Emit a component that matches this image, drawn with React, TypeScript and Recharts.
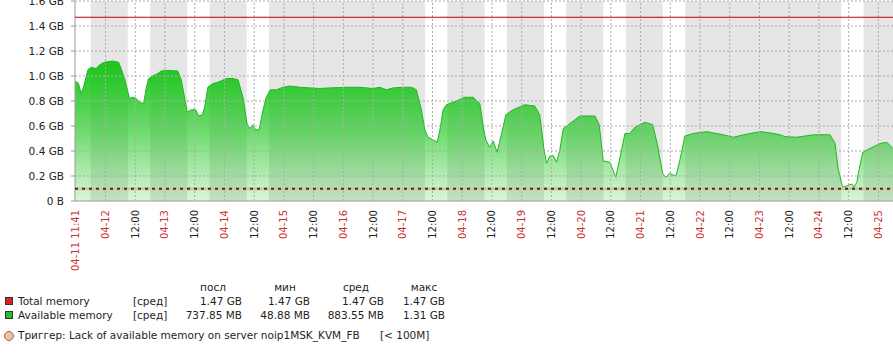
import React from "react";
import { Area, AreaChart, CartesianGrid, ReferenceLine, XAxis, YAxis } from "recharts";

// hours since 04-11 00:00
const START = 11 + 41 / 60;
const END = 341.9;

const hours = [
  11.7, 13.1, 14.2, 15.1, 16.9, 18.2, 20.2, 21.6, 23.6, 26.8, 29.3, 30.3, 31.7, 33.7, 34.9, 36.4, 37.7, 39.4,
  40.4, 41.4, 43.1, 45.1, 46.5, 49.2, 53.2, 54.6, 55.9, 57.0, 58.6, 60.4, 61.6, 63.1, 64.0, 65.3, 67.4, 69.4,
  72.8, 75.4, 77.5, 79.5, 81.1, 82.2, 83.5, 84.6, 86.0, 87.6, 88.9, 90.5, 93.0, 95.6, 98.3, 102.4, 110.5,
  114.5, 121.3, 126.6, 132.0, 134.7, 137.4, 140.1, 144.1, 147.5, 149.5, 151.5, 152.9, 154.2, 156.2, 157.9,
  159.0, 160.3, 161.6, 165.7, 169.0, 172.4, 175.1, 176.7, 177.5, 179.1, 180.5, 182.1, 183.9, 185.6, 188.6,
  193.3, 197.3, 199.3, 200.9, 202.0, 203.4, 204.7, 206.1, 207.4, 208.8, 211.5, 215.5, 221.6, 223.3, 224.9,
  227.6, 230.0, 231.7, 233.7, 235.7, 237.7, 241.8, 244.9, 246.7, 248.9, 250.2, 251.6, 254.3, 255.9, 257.9,
  261.3, 266.7, 273.4, 277.4, 282.8, 288.2, 292.2, 296.3, 298.3, 303.0, 309.8, 316.5, 318.5, 319.8, 321.6,
  323.2, 325.3, 326.2, 327.3, 328.3, 329.7, 332.6, 336.7, 339.4, 341.4, 341.9,
];

const availGB = [
  0.96, 0.94, 0.86, 0.91, 1.05, 1.07, 1.06, 1.09, 1.11, 1.12, 1.11, 1.06, 0.98, 0.82, 0.83, 0.82, 0.79, 0.78,
  0.9, 0.98, 1.0, 1.02, 1.04, 1.045, 1.04, 0.97, 0.83, 0.71, 0.73, 0.73, 0.68, 0.69, 0.75, 0.91, 0.94, 0.95,
  0.98, 0.98, 0.97, 0.83, 0.62, 0.58, 0.61, 0.57, 0.57, 0.73, 0.83, 0.89, 0.89, 0.91, 0.92, 0.91, 0.9,
  0.905, 0.91, 0.91, 0.9, 0.91, 0.89, 0.905, 0.91, 0.91, 0.89, 0.73, 0.57, 0.51, 0.49, 0.47,
  0.57, 0.73, 0.77, 0.8, 0.83, 0.83, 0.78, 0.57, 0.49, 0.43, 0.48, 0.39, 0.54, 0.69, 0.73,
  0.77, 0.76, 0.69, 0.43, 0.3, 0.36, 0.365, 0.31, 0.41, 0.58, 0.62, 0.68, 0.68, 0.61, 0.32,
  0.31, 0.19, 0.35, 0.54, 0.54, 0.59, 0.63, 0.61, 0.46, 0.22, 0.19, 0.22, 0.2, 0.33, 0.52,
  0.54, 0.555, 0.53, 0.51, 0.535, 0.555, 0.545, 0.53, 0.515, 0.51, 0.53, 0.53, 0.46, 0.25, 0.11,
  0.12, 0.136, 0.11, 0.15, 0.26, 0.39, 0.42, 0.46, 0.47, 0.43, 0.42,
];

const TOTAL_GB = 1.47;
const TRIGGER_GB = 100 / 1024;

const dayLabels = ["04-12", "04-13", "04-14", "04-15", "04-16", "04-17", "04-18", "04-19", "04-20", "04-21", "04-22", "04-23", "04-24", "04-25"];
const startLabel = "04-11 11:41";
const workDays = ["04-11", "04-12", "04-13", "04-14", "04-17", "04-18", "04-19", "04-20", "04-21", "04-24"];
const WORK_FROM = 9;
const WORK_TO = 18;

const yTicks = [0, 0.2, 0.4, 0.6, 0.8, 1.0, 1.2, 1.4, 1.6];
const yTickLabels = ["0 B", "0.2 GB", "0.4 GB", "0.6 GB", "0.8 GB", "1.0 GB", "1.2 GB", "1.4 GB", "1.6 GB"];

const statHeaders = ["посл", "мин", "сред", "макс"];
const totalStats = ["1.47 GB", "1.47 GB", "1.47 GB", "1.47 GB"];
const availStats = ["737.85 MB", "48.88 MB", "883.55 MB", "1.31 GB"];

const data = hours.map((t, i) => ({ t, avail: availGB[i] }));

const xTickLabel: Record<string, string> = { [String(START)]: startLabel };
const xTicks: number[] = [START];
dayLabels.forEach((d, i) => {
  const t = 24 * (i + 1);
  xTicks.push(t);
  xTickLabel[String(t)] = d;
  if (t + 12 <= END) {
    xTicks.push(t + 12);
    xTickLabel[String(t + 12)] = "12:00";
  }
});

const bgData: { t: number; bg: number }[] = [];
workDays.forEach((d) => {
  const day = Number(d.slice(3)) - 11;
  bgData.push({ t: Math.max(START, day * 24 + WORK_FROM), bg: 1.6 });
  bgData.push({ t: day * 24 + WORK_TO, bg: 0 });
});

const FONT = "'DejaVu Sans', sans-serif";

function XTick(props: any) {
  const { x, y, payload } = props;
  const label = xTickLabel[String(payload.value)] ?? "";
  const red = label !== "12:00";
  return (
    <text
      x={x}
      y={y}
      transform={`rotate(-90 ${x} ${y})`}
      textAnchor="end"
      dy="0.35em"
      fontSize={10}
      fontFamily={FONT}
      fill={red ? "#c83232" : "#222"}
    >
      {label}
    </text>
  );
}

const colRight = [242, 310, 384, 445];
const headCenter = [213, 285, 356, 424];

function Txt({ x, y, children, right, center }: any) {
  const style: React.CSSProperties = {
    position: "absolute",
    top: y - 7,
    lineHeight: "14px",
    fontSize: 10.5,
    whiteSpace: "nowrap",
  };
  if (right) {
    return <span style={{ ...style, left: x - 120, width: 120, textAlign: "right" }}>{children}</span>;
  }
  if (center) {
    return <span style={{ ...style, left: x - 40, width: 80, textAlign: "center" }}>{children}</span>;
  }
  return <span style={{ ...style, left: x }}>{children}</span>;
}

export default function App() {
  return (
    <div
      style={{
        position: "absolute",
        left: 0,
        top: 0,
        width: 893,
        height: 353,
        background: "#fff",
        overflow: "hidden",
        fontFamily: FONT,
        color: "#1e1e1e",
      }}
    >
      <AreaChart width={893} height={275} data={data} margin={{ top: 1, right: 0, left: 0, bottom: 0 }}>
        <defs>
          <linearGradient id="availGrad" x1="0" y1="0" x2="0" y2="1">
            <stop offset="0%" stopColor="#14c414" stopOpacity={0.97} />
            <stop offset="50%" stopColor="#14c414" stopOpacity={0.62} />
            <stop offset="100%" stopColor="#14c414" stopOpacity={0.16} />
          </linearGradient>
        </defs>
        <CartesianGrid fill="#e6e6e6" fillOpacity={1} horizontal={false} vertical={false} />
        <XAxis
          type="number"
          dataKey="t"
          domain={[START, END]}
          allowDataOverflow
          ticks={xTicks}
          interval={0}
          height={74}
          tickLine={false}
          tickMargin={3}
          stroke="#9a9a9a"
          tick={<XTick />}
        />
        <YAxis
          domain={[0, 1.6]}
          ticks={yTicks}
          interval={0}
          width={75}
          tickSize={4}
          tickMargin={7}
          stroke="#9a9a9a"
          tickFormatter={(v: number) => yTickLabels[yTicks.indexOf(v)] ?? ""}
          tick={{ fontSize: 10.5, fill: "#222", fontFamily: FONT }}
        />
        <Area
          data={bgData}
          dataKey="bg"
          type="stepAfter"
          fill="#ffffff"
          fillOpacity={1}
          stroke="none"
          isAnimationActive={false}
          activeDot={false}
        />
        <Area
          dataKey="avail"
          type="linear"
          stroke="#1fb81f"
          strokeWidth={1}
          fill="url(#availGrad)"
          fillOpacity={1}
          isAnimationActive={false}
          activeDot={false}
        />
        {yTicks.slice(1).map((v) => (
          <ReferenceLine key={`h${v}`} y={v} stroke="#ababab" strokeDasharray="2 2" strokeWidth={1} zIndex={700} />
        ))}
        {xTicks.slice(1).map((v) => (
          <ReferenceLine key={`v${v}`} x={v} stroke="#ababab" strokeDasharray="2 2" strokeWidth={1} zIndex={700} />
        ))}
        <ReferenceLine y={TOTAL_GB} stroke="#c00000" strokeWidth={1} zIndex={710} />
        <ReferenceLine y={TRIGGER_GB} stroke="#dcc49a" strokeWidth={3} zIndex={710} />
        <ReferenceLine y={TRIGGER_GB} stroke="#333" strokeWidth={2} strokeDasharray="3 4" zIndex={720} />
      </AreaChart>

      {statHeaders.map((h, i) => (
        <Txt key={h} x={headCenter[i]} y={287} center>
          {h}
        </Txt>
      ))}

      <div style={{ position: "absolute", left: 5, top: 296.5, width: 6, height: 6, background: "#e02020", border: "1px solid #333" }} />
      <Txt x={18} y={300.7}>Total memory</Txt>
      <Txt x={133} y={300.7}>[сред]</Txt>
      {totalStats.map((v, i) => (
        <Txt key={i} x={colRight[i]} y={300.7} right>
          {v}
        </Txt>
      ))}

      <div style={{ position: "absolute", left: 5, top: 311, width: 6, height: 6, background: "#20c020", border: "1px solid #333" }} />
      <Txt x={18} y={315}>Available memory</Txt>
      <Txt x={133} y={315}>[сред]</Txt>
      {availStats.map((v, i) => (
        <Txt key={i} x={colRight[i]} y={315} right>
          {v}
        </Txt>
      ))}

      <div
        style={{
          position: "absolute",
          left: 4,
          top: 331,
          width: 8,
          height: 8,
          borderRadius: "50%",
          background: "#f5bf9c",
          border: "1px solid #8a7060",
        }}
      />
      <Txt x={18} y={335}>Триггер: Lack of available memory on server noip1MSK_KVM_FB</Txt>
      <Txt x={380} y={335}>[&lt; 100M]</Txt>
    </div>
  );
}
